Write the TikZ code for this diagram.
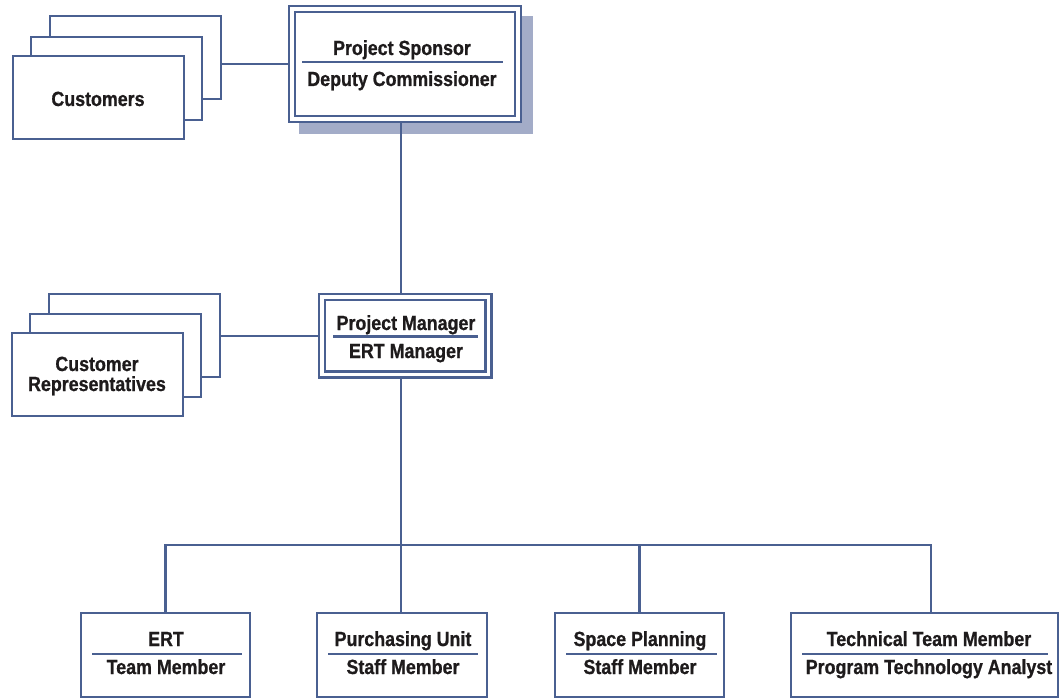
\documentclass[tikz,border=0pt]{standalone}
\usepackage{fontspec}
\setmainfont{Liberation Sans}[FakeStretch=0.87,FakeBold=0.8]
\definecolor{lc}{RGB}{74,96,145}
\definecolor{shc}{RGB}{163,172,200}
\definecolor{tc}{RGB}{30,27,28}
\pgfdeclarelayer{bg}
\pgfsetlayers{bg,main}
\begin{document}
\begin{tikzpicture}[x=1pt,y=-1pt,
  box/.style={draw=lc, line width=2.5pt, fill=white, rectangle, inner sep=0pt, outer sep=0pt, anchor=north west},
  card/.style={box, minimum width=171, minimum height=83},
  dbox/.style={box, line width=2.3pt, double=white, double distance=3.5pt},
  lbl/.style={text=tc, inner sep=0pt, anchor=base, font=\fontsize{20.5}{22}\selectfont\bfseries},
  rule/.style={draw=lc, line width=2.5pt},
  conn/.style={draw=lc, line width=2.5pt}]
\useasboundingbox (0,0) rectangle (1060,698);

% customers stack
\node[card] (cust3) at (50,16) {};
\node[card] (cust2) at (31,37) {};
\node[card] (cust1) at (13,56) {};
\node[lbl] (custt) at (98,106) {Customers};

% customer representatives stack
\node[card] (cr3) at (49,294) {};
\node[card] (cr2) at (30,314) {};
\node[card] (cr1) at (12,333) {};
\node[lbl] (crt1) at (97,371) {Customer};
\node[lbl] (crt2) at (97,391) {Representatives};

% project sponsor
\node[dbox, minimum width=226, minimum height=110] (sp) at (292,9) {};
\node[lbl] (sp1) at (402,55) {Project Sponsor};
\node[lbl] (sp2) at (402,86) {Deputy Commissioner};
\draw[rule] (302,62) -- (503,62);

% project manager
\node[dbox, minimum width=166.5, minimum height=77.5] (pm) at (322,297) {};
\node[lbl] (pm1) at (406,330) {Project Manager};
\node[lbl] (pm2) at (406,358) {ERT Manager};
\draw[rule] (333,336.5) -- (478,336.5);

% bottom row
\node[box, minimum width=169, minimum height=84] (ert) at (81,613) {};
\node[lbl] (ert1) at (166,646) {ERT};
\node[lbl] (ert2) at (166,674) {Team Member};
\draw[rule] (92,654) -- (242,654);

\node[box, minimum width=170, minimum height=84] (pur) at (317,613) {};
\node[lbl] (pur1) at (403,646) {Purchasing Unit};
\node[lbl] (pur2) at (403,674) {Staff Member};
\draw[rule] (328,654) -- (478,654);

\node[box, minimum width=169, minimum height=84] (spc) at (555,613) {};
\node[lbl] (spc1) at (640,646) {Space Planning};
\node[lbl] (spc2) at (640,674) {Staff Member};
\draw[rule] (566,654) -- (717,654);

\node[box, minimum width=267, minimum height=84] (tec) at (791,613) {};
\node[lbl] (tec1) at (929,646) {Technical Team Member};
\node[lbl] (tec2) at (929,674) {Program Technology Analyst};
\draw[rule] (802,654) -- (1048,654);

\coordinate (bus) at (401,545);
\coordinate (tecdrop) at ([xshift=6.5pt]tec.north);

\begin{pgfonlayer}{bg}
  \fill[shc] (299,16) rectangle (533,134);
  \draw[conn] (sp.west) -- (sp.west -| cust3.east);
  \draw[conn] (pm.west) -- (pm.west -| cr3.east);
  \draw[conn] (sp.south -| bus) -- (pm.north -| bus);
  \draw[conn] (pm.south -| bus) -- (pur.north -| bus);
  \draw[conn] (ert.north) -- (ert.north |- bus) -- (tecdrop |- bus) -- (tecdrop);
  \draw[conn] (spc.north) -- (spc.north |- bus);
\end{pgfonlayer}
\end{tikzpicture}
\end{document}
